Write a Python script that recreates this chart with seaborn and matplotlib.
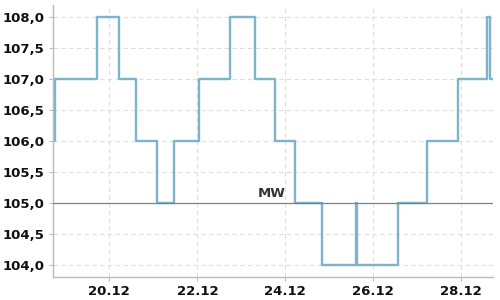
import matplotlib
matplotlib.use("Agg")
import matplotlib.pyplot as plt
import matplotlib.dates as mdates
import matplotlib.ticker as mticker
import seaborn as sns
import pandas as pd

times = [
    "2023-12-18 17:30", "2023-12-18 18:30", "2023-12-19 17:00", "2023-12-20 05:00",
    "2023-12-20 14:30", "2023-12-21 02:00", "2023-12-21 11:15", "2023-12-22 01:00",
    "2023-12-22 17:45", "2023-12-23 07:30", "2023-12-23 18:30", "2023-12-24 05:15",
    "2023-12-24 20:00", "2023-12-25 14:30", "2023-12-25 15:00", "2023-12-26 13:15",
    "2023-12-27 05:15", "2023-12-27 22:00", "2023-12-28 13:45", "2023-12-28 15:30",
    "2023-12-28 17:00",
]
values = [106.0, 107.0, 108.0, 107.0, 106.0, 105.0, 106.0, 107.0, 108.0, 107.0,
          106.0, 105.0, 104.0, 105.0, 104.0, 105.0, 106.0, 107.0, 108.0, 107.0, 107.0]
mean_value = 105.0
mean_label = "MW"

df = pd.DataFrame({"time": pd.to_datetime(times), "value": values})

sns.set_theme(style="white")
plt.rcParams["font.family"] = ["DejaVu Sans"]

fig = plt.figure(figsize=(5, 3), dpi=100)
ax = fig.add_axes([0.106, 0.078, 0.880, 0.905])

sns.lineplot(data=df, x="time", y="value", ax=ax, drawstyle="steps-post",
             color="#7db4cc", linewidth=1.7, zorder=2)

ax.axhline(mean_value, color="#808080", linewidth=0.9, zorder=3)
ax.text(pd.Timestamp("2023-12-24 00:00"), mean_value + 0.05, mean_label,
        ha="right", va="bottom", fontsize=9.5, fontweight="bold", color="#333333", zorder=4)

ax.set_xlim(pd.Timestamp("2023-12-18 17:15"), pd.Timestamp("2023-12-28 17:15"))
ax.set_ylim(103.82, 108.2)

ax.xaxis.set_major_locator(mdates.DayLocator(bymonthday=[20, 22, 24, 26, 28]))
ax.xaxis.set_major_formatter(mdates.DateFormatter("%d.%m"))
ax.yaxis.set_major_locator(mticker.MultipleLocator(0.5))
ax.yaxis.set_major_formatter(mticker.FuncFormatter(lambda v, p: f"{v:.1f}".replace(".", ",")))

ax.grid(True, color="#dddddd", linestyle=(0, (4, 3)), linewidth=0.8)
ax.set_xlabel("")
ax.set_ylabel("")
for s in ["top", "right"]:
    ax.spines[s].set_visible(False)
for s in ["left", "bottom"]:
    ax.spines[s].set_color("#bbbbbb")
    ax.spines[s].set_linewidth(1)
ax.tick_params(axis="both", which="major", length=3, width=0.8, color="#bbbbbb",
               labelsize=9.5, labelcolor="#111111", pad=3, left=True, bottom=True)
for lab in ax.get_xticklabels() + ax.get_yticklabels():
    lab.set_fontweight("bold")

fig.savefig("out.png", dpi=100)
